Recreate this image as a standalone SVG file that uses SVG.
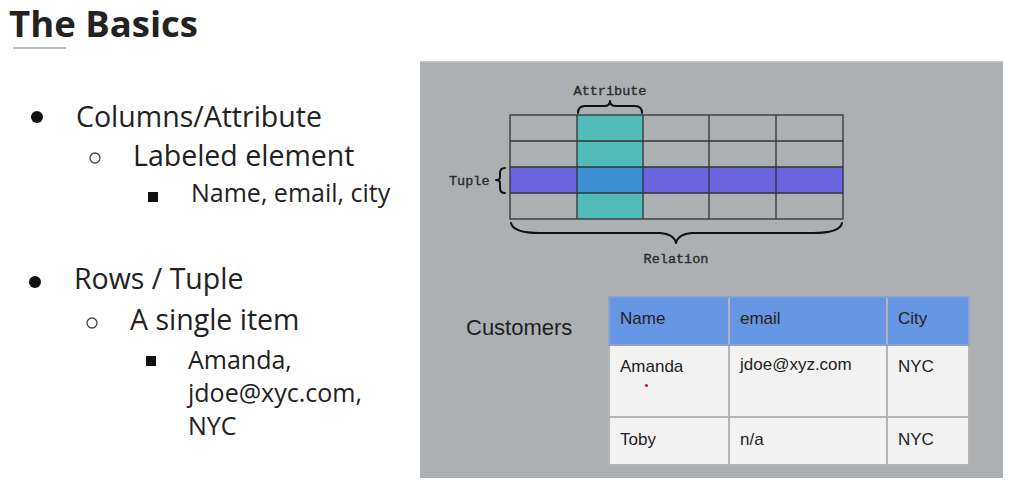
<svg xmlns="http://www.w3.org/2000/svg" width="1015" height="493" viewBox="0 0 1015 493">
<style>
.os{font-family:"Open Sans","DejaVu Sans",sans-serif;fill:#222}
.l1{font-size:28.5px}
.l3{font-size:25px}
.tw{font-family:"Liberation Mono","DejaVu Sans Mono",monospace;font-size:13.5px;fill:#2a2a2a;stroke:#2a2a2a;stroke-width:0.35}
.grid{stroke:#333;stroke-width:1.3;fill:none}
.brace{stroke:#111;stroke-width:2;fill:none;stroke-linecap:round;stroke-linejoin:round}
.tb{font-family:"Liberation Sans",Arial,sans-serif;font-size:17px;fill:#222}
.cell{stroke:#b4b4b4;stroke-width:2}
</style>
<rect width="1015" height="493" fill="#ffffff"/>

<g id="title">
<text x="9" y="37" class="os" font-size="36.5" font-weight="bold" fill="#111">The Basics</text>
<rect x="13" y="47" width="53" height="2" fill="#bcbcbc"/>
</g>

<g id="bullets-columns">
<circle cx="37" cy="117" r="6" fill="#111"/>
<text x="76" y="127" class="os l1">Columns/Attribute</text>
<circle cx="95" cy="158" r="5" fill="none" stroke="#444" stroke-width="1.3"/>
<text x="133" y="166" class="os l1">Labeled element</text>
<rect x="148" y="192" width="10" height="10" fill="#111"/>
<text x="191" y="202" class="os l3">Name, email, city</text>
</g>

<g id="bullets-rows">
<circle cx="35" cy="282" r="6" fill="#111"/>
<text x="74" y="289" class="os l1">Rows / Tuple</text>
<circle cx="92" cy="323" r="5" fill="none" stroke="#444" stroke-width="1.3"/>
<text x="130" y="330" class="os l1">A single item</text>
<rect x="146" y="356" width="10" height="10" fill="#111"/>
<text x="188" y="369" class="os l3">Amanda,</text>
<text x="188" y="402" class="os l3">jdoe@xyc.com,</text>
<text x="188" y="435" class="os l3">NYC</text>
</g>

<g id="panel">
<rect x="420" y="61" width="583" height="417" fill="#adb0b3"/>
<rect x="420" y="61" width="583" height="1.5" fill="#c4c6c8"/>
</g>

<g id="relation-diagram">
<rect x="577" y="115" width="66" height="104" fill="#52bcba"/>
<rect x="510" y="167" width="333" height="26" fill="#6a64df"/>
<rect x="577" y="167" width="66" height="26" fill="#3b8fd2"/>
<rect x="510" y="115" width="333" height="104" class="grid"/>
<path class="grid" d="M510 141H843M510 167H843M510 193H843M577 115V219M643 115V219M709 115V219M776 115V219"/>
<path class="brace" d="M578 113Q578 106 585 106L604 106Q610 106 610 101Q610 106 616 106L635 106Q642 106 642 113"/>
<text x="610" y="95" class="tw" text-anchor="middle">Attribute</text>
<path class="brace" d="M505 168Q500 168 500 173L500 177Q500 180 496 180Q500 180 500 183L500 188Q500 193 505 193"/>
<text x="449" y="185" class="tw">Tuple</text>
<path class="brace" stroke-width="2.6" d="M511 223Q513 233 540 233L660 233Q674 234 676 243Q678 234 692 233L813 233Q840 233 842 223"/>
<text x="676" y="263" class="tw" text-anchor="middle">Relation</text>
</g>

<g id="customers-table">
<text x="466" y="335" font-family="Liberation Sans,Arial,sans-serif" font-size="22" fill="#1e1e1e">Customers</text>
<rect x="609" y="297" width="360" height="48" fill="#6797e4"/>
<rect x="609" y="345" width="360" height="120" fill="#f2f2f2"/>
<path class="cell" fill="none" d="M609 297V465H969V297M609 345H969M609 417H969M729 297V465M887 297V465"/>
<rect x="609" y="297" width="360" height="48" fill="none" stroke="#7f9fd6" stroke-width="1.5"/>
<text x="620" y="324" class="tb">Name</text>
<text x="740" y="324" class="tb">email</text>
<text x="898" y="324" class="tb">City</text>
<text x="620" y="372" class="tb">Amanda</text>
<text x="740" y="370" class="tb" font-size="16">jdoe@xyz.com</text>
<text x="898" y="372" class="tb">NYC</text>
<circle cx="646.5" cy="385.5" r="1.6" fill="#d0103a"/>
<text x="620" y="445" class="tb">Toby</text>
<text x="740" y="445" class="tb">n/a</text>
<text x="898" y="445" class="tb">NYC</text>
</g>
</svg>
